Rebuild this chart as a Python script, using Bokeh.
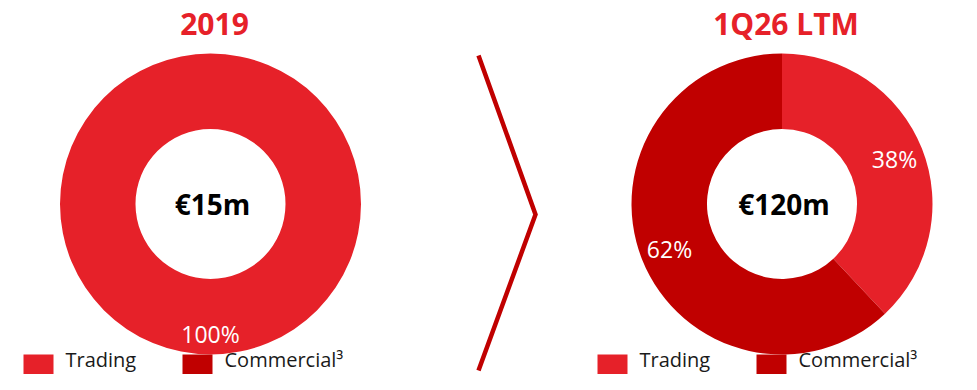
import math
from bokeh.plotting import figure
from bokeh.models import Range1d
from bokeh.core.properties import value
from bokeh.embed import file_html
from bokeh.resources import INLINE

# ---- data ----
periods = ["2019", "1Q26 LTM"]
totals = ["€15m", "€120m"]
categories = ["Trading", "Commercial³"]
trading_pct = [100, 38]
commercial_pct = [0, 62]

# ---- style ----
C_TRADING = "#E62129"
C_COMM = "#C00000"
FONT = value("Open Sans")
W, H = 961, 374

def X(x):
    return x

def Y(y):
    return H - y

p = figure(width=W, height=H, output_backend="svg", toolbar_location=None,
           x_range=Range1d(0, W), y_range=Range1d(0, H), min_border=0)
p.axis.visible = False
p.grid.visible = False
p.outline_line_color = None
p.background_fill_color = "white"

centers = [(210, 203.5), (781.5, 203.5)]
R_OUT, R_IN = 150.5, 75

for i, (cx, cy) in enumerate(centers):
    shares = [trading_pct[i], commercial_pct[i]]
    cols = [C_TRADING, C_COMM]
    # Trading goes clockwise from 12 o'clock, Commercial counter-clockwise
    for k, (s, c) in enumerate(zip(shares, cols)):
        if s <= 0:
            continue
        if s >= 100:
            p.annulus(x=[X(cx)], y=[Y(cy)], inner_radius=R_IN, outer_radius=R_OUT,
                      fill_color=c, line_color=None)
            mid = math.pi / 2 - math.pi
            lab_r = 130
        else:
            ang = s / 100 * 2 * math.pi
            if k == 0:
                start, end = math.pi / 2 - ang, math.pi / 2
            else:
                start, end = math.pi / 2, math.pi / 2 + ang
            p.annular_wedge(x=[X(cx)], y=[Y(cy)], inner_radius=R_IN, outer_radius=R_OUT,
                            start_angle=start, end_angle=end,
                            fill_color=c, line_color=None)
            mid = (start + end) / 2
            lab_r = 121
        p.text(x=[X(cx) + lab_r * math.cos(mid)], y=[Y(cy) + lab_r * math.sin(mid)],
               text=[f"{s}%"], text_font=FONT, text_font_size="23px",
               text_color="white", text_align="center", text_baseline="middle")
    # center total
    p.text(x=[X(cx) + 2], y=[Y(cy)], text=[totals[i]], text_font=FONT,
           text_font_size="28px", text_font_style="bold", text_color="black",
           text_align="center", text_baseline="middle")
    # title
    p.text(x=[X(cx) + 4], y=[Y(23)], text=[periods[i]], text_font=FONT,
           text_font_size="30px", text_font_style="bold", text_color=C_TRADING,
           text_align="center", text_baseline="middle")

# legends (lifted slightly so they stay inside the figure)
legend_x = [[23, 182], [597, 756]]
for lx in legend_x:
    for k, cat in enumerate(categories):
        col = [C_TRADING, C_COMM][k]
        x0 = lx[k]
        p.rect(x=[X(x0 + 15)], y=[Y(364)], width=30, height=20,
               fill_color=col, line_color=None)
        p.text(x=[X(x0 + 42)], y=[Y(359)], text=[cat], text_font=FONT,
               text_font_size="20px", text_color="#1a1a1a",
               text_align="left", text_baseline="middle")

# chevron separator
p.line(x=[X(478), X(535), X(478)], y=[Y(55), Y(214), Y(370)],
       line_color=C_COMM, line_width=4.5, line_join="miter")

open("out.html", "w").write(file_html(p, INLINE))
